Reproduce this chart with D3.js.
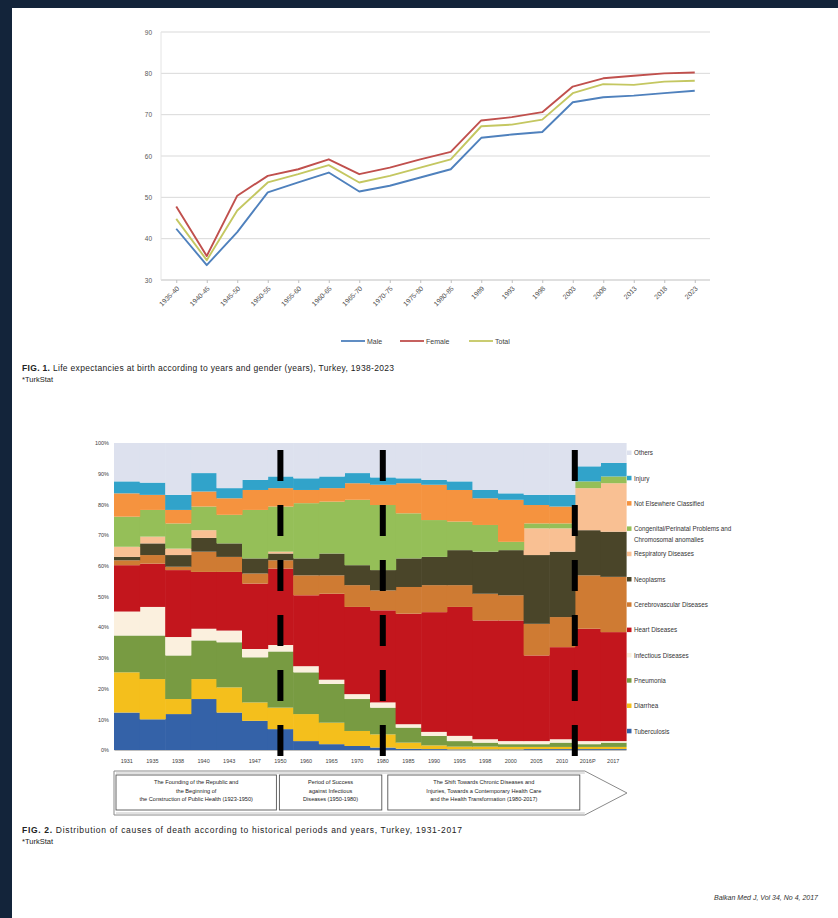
<!DOCTYPE html>
<html>
<head>
<meta charset="utf-8">
<script src="https://cdn.jsdelivr.net/npm/d3@7"></script>
<style>
  html, body { margin: 0; padding: 0; background: #13243a; }
  svg { display: block; font-family: "Liberation Sans", Arial, sans-serif; }
</style>
</head>
<body>
<svg id="page" width="838" height="918"></svg>
<script>
// ---------- Figure 1: life expectancy at birth ----------
const lifePeriods = ["1935-40", "1940-45", "1945-50", "1950-55", "1955-60", "1960-65", "1965-70",
  "1970-75", "1975-80", "1980-85", "1989", "1993", "1998", "2003", "2008", "2013", "2018", "2023"];
const lifeMale   = [42.4, 33.6, 41.6, 51.2, 53.6, 56.0, 51.4, 52.8, 54.8, 56.8, 64.4, 65.2, 65.8, 73.0, 74.2, 74.6, 75.2, 75.8];
const lifeFemale = [47.8, 35.8, 50.4, 55.2, 56.8, 59.2, 55.6, 57.2, 59.2, 61.0, 68.6, 69.4, 70.6, 76.8, 78.8, 79.4, 80.0, 80.2];
const lifeTotal  = [44.8, 34.8, 46.8, 53.6, 55.6, 57.8, 53.6, 55.2, 57.2, 59.2, 67.2, 67.6, 68.8, 75.2, 77.4, 77.2, 78.0, 78.2];
const lifeTicks  = [30, 40, 50, 60, 70, 80, 90];
const lifeSeriesNames = ["Male", "Female", "Total"];

// ---------- Figure 2: causes of death (percent of all deaths) ----------
const causeYears = ["1931", "1935", "1938", "1940", "1943", "1947", "1950", "1960", "1965", "1970",
  "1980", "1985", "1990", "1995", "1998", "2000", "2005", "2010", "2016P", "2017"];
const tuberculosis    = [12.2, 10.0, 11.7, 16.6, 12.2, 9.5, 6.8, 2.9, 1.9, 1.3, 0.8, 0.4, 0.3, 0.2, 0.2, 0.2, 0.3, 0.3, 0.3, 0.3];
const diarrhea        = [13.1, 13.1, 4.9, 6.5, 8.2, 6.0, 7.0, 8.8, 7.0, 4.9, 4.3, 2.0, 1.2, 0.9, 0.9, 0.8, 0.7, 0.7, 0.7, 0.7];
const pneumonia       = [12.0, 14.2, 14.2, 12.6, 14.7, 14.7, 18.3, 13.6, 12.6, 10.4, 8.7, 4.9, 3.1, 1.8, 1.3, 0.9, 0.9, 1.4, 0.9, 1.4];
const infectious      = [7.8, 9.3, 6.0, 3.8, 3.8, 2.7, 2.1, 2.0, 1.4, 1.6, 1.7, 1.1, 1.3, 1.7, 1.1, 1.0, 1.0, 1.1, 1.0, 0.5];
const heart           = [15.1, 14.1, 21.8, 18.5, 19.1, 21.3, 24.9, 23.1, 28.0, 28.4, 30.0, 36.0, 39.0, 42.0, 38.7, 39.3, 27.9, 30.0, 36.6, 35.5];
const cerebrovascular = [1.6, 2.8, 1.1, 6.6, 4.9, 3.3, 2.7, 6.5, 6.0, 7.1, 6.5, 8.7, 8.8, 7.1, 8.7, 8.2, 10.3, 9.8, 17.4, 18.0];
const neoplasms       = [1.1, 3.8, 3.8, 4.5, 4.4, 4.9, 2.2, 5.5, 7.1, 6.5, 6.6, 9.3, 9.2, 11.4, 13.7, 14.7, 22.4, 21.3, 14.7, 14.7];
const respiratory     = [3.3, 2.2, 2.1, 2.5, 0, 0, 0.6, 0, 0, 0, 0, 0, 0, 0, 0, 0, 8.7, 7.6, 13.7, 15.8];
const congenital      = [9.8, 8.7, 8.2, 7.7, 9.3, 15.8, 14.7, 18.0, 16.9, 21.3, 21.2, 14.7, 12.0, 9.3, 8.7, 2.7, 1.6, 1.6, 2.2, 2.2];
const notClassified   = [7.6, 4.9, 4.4, 4.9, 5.4, 6.5, 6.0, 4.3, 4.4, 5.4, 6.6, 9.8, 11.5, 10.3, 8.7, 13.7, 6.0, 5.5, 0, 0];
const injury          = [3.9, 4.0, 4.9, 6.0, 3.3, 3.3, 3.8, 3.8, 3.8, 3.3, 2.4, 1.6, 1.6, 2.8, 2.7, 2.1, 3.3, 3.8, 4.9, 4.4];
const others          = [12.5, 12.9, 16.9, 9.8, 14.7, 12.0, 10.9, 11.5, 10.9, 9.8, 11.2, 11.5, 12.0, 12.5, 15.3, 16.4, 16.9, 16.9, 7.6, 6.5];
const percentTicks = [0, 10, 20, 30, 40, 50, 60, 70, 80, 90, 100];

// stacking order, bottom to top
const causeKeys = ["Tuberculosis", "Diarrhea", "Pneumonia", "Infectious Diseases", "Heart Diseases",
  "Cerebrovascular Diseases", "Neoplasms", "Respiratory Diseases", "Congenital", "Not Elsewhere Classified",
  "Injury", "Others"];
const causeValues = [tuberculosis, diarrhea, pneumonia, infectious, heart, cerebrovascular, neoplasms,
  respiratory, congenital, notClassified, injury, others];
const causeColors = ["#3462a8", "#f4bf1c", "#789b42", "#fbf0de", "#c3161d", "#cf7b33", "#4a4529",
  "#f9c093", "#95bf58", "#f5933f", "#31a3ca", "#dde1ee"];
// legend, top to bottom
const causeLegend = [
  ["Others"], ["Injury"], ["Not Elsewhere Classified"],
  ["Congenital/Perinatal Problems and", "Chromosomal anomalies"], ["Respiratory Diseases"],
  ["Neoplasms"], ["Cerebrovascular Diseases"], ["Heart Diseases"], ["Infectious Diseases"],
  ["Pneumonia"], ["Diarrhea"], ["Tuberculosis"]
];
// period boundaries, in column units from the left edge
const periodBreaks = [6.5, 10.5, 18];
const periodTexts = [
  ["The Founding of the Republic and", "the Beginning of", "the Construction of Public Health (1923-1950)"],
  ["Period of Success", "against Infectious", "Diseases (1950-1980)"],
  ["The Shift Towards Chronic Diseases and", "Injuries, Towards a Contemporary Health Care", "and the Health Transformation (1980-2017)"]
];

const svg = d3.select("#page");

// page
svg.append("rect").attr("width", 838).attr("height", 918).attr("fill", "#13243a");
svg.append("rect").attr("x", 12).attr("y", 8).attr("width", 826).attr("height", 910).attr("fill", "#ffffff");

// ================= Figure 1 =================
const L = { left: 161, right: 710, top: 32, bottom: 280 };
const lx = d3.scalePoint().domain(lifePeriods).range([L.left, L.right]).padding(0.5);
const ly = d3.scaleLinear().domain([30, 90]).range([L.bottom, L.top]);
const lineColors = { Male: "#4f81bd", Female: "#c0504d", Total: "#c4c761" };

const g1 = svg.append("g");
g1.append("g").selectAll("line").data(lifeTicks).join("line")
  .attr("x1", L.left).attr("x2", L.right)
  .attr("y1", d => ly(d)).attr("y2", d => ly(d))
  .attr("stroke", d => d === 30 ? "#bfbfbf" : "#d9d9d9").attr("stroke-width", 1);
g1.append("line").attr("x1", L.left).attr("x2", L.left).attr("y1", L.top).attr("y2", L.bottom)
  .attr("stroke", "#e4e4e4");

const yAx = g1.append("g").attr("transform", `translate(${L.left - 9},0)`)
  .call(d3.axisLeft(ly).tickValues(lifeTicks).tickSize(0).tickPadding(0));
yAx.select(".domain").remove();
yAx.selectAll("text").attr("font-size", 6.5).attr("fill", "#595959").attr("font-family", "Liberation Sans");

const xAx = g1.append("g").attr("transform", `translate(0,${L.bottom})`)
  .call(d3.axisBottom(lx).tickSize(3));
xAx.select(".domain").remove();
xAx.selectAll(".tick line").attr("stroke", "#bfbfbf");
xAx.selectAll("text").attr("font-size", 6.8).attr("fill", "#505050").attr("font-family", "Liberation Sans")
  .attr("text-anchor", "end").attr("dy", null).attr("y", 0)
  .attr("transform", "translate(3,9) rotate(-45)");

const lifeData = { Male: lifeMale, Female: lifeFemale, Total: lifeTotal };
const line = d3.line().x((d, i) => lx(lifePeriods[i])).y(d => ly(d));
["Male", "Total", "Female"].forEach(k => {
  g1.append("path").datum(lifeData[k]).attr("d", line)
    .attr("fill", "none").attr("stroke", lineColors[k]).attr("stroke-width", 1.9)
    .attr("stroke-linejoin", "round");
});

// legend
const legX = [341, 400, 469];
lifeSeriesNames.forEach((k, i) => {
  const lg = g1.append("g").attr("transform", `translate(${legX[i]},341)`);
  lg.append("line").attr("x1", 0).attr("x2", 24).attr("stroke", lineColors[k]).attr("stroke-width", 1.8);
  lg.append("text").attr("x", 26).attr("y", 2.5).attr("font-size", 7).attr("fill", "#404040").text(k);
});

// caption
const cap1 = svg.append("text").attr("x", 22).attr("y", 371).attr("font-size", 8.5).attr("fill", "#222")
  .attr("textLength", 372).attr("lengthAdjust", "spacing");
cap1.append("tspan").attr("font-weight", "bold").text("FIG. 1. ");
cap1.append("tspan").text("Life expectancies at birth according to years and gender (years), Turkey, 1938-2023");
svg.append("text").attr("x", 22).attr("y", 382).attr("font-size", 7.5).attr("fill", "#222").text("*TurkStat");

// ================= Figure 2 =================
const S = { left: 114, right: 626, top: 443, bottom: 750 };
const rows = causeYears.map((yr, i) => {
  const r = { year: yr };
  causeKeys.forEach((k, j) => { r[k] = causeValues[j][i]; });
  return r;
});
const stacked = d3.stack().keys(causeKeys)(rows);
const bx = d3.scaleBand().domain(causeYears).range([S.left, S.right]).padding(0);
const by = d3.scaleLinear().domain([0, 100]).range([S.bottom, S.top]);
const colScale = d3.scaleLinear().domain([0, causeYears.length]).range([S.left, S.right]);
const color = d3.scaleOrdinal().domain(causeKeys).range(causeColors);

const g2 = svg.append("g");
g2.selectAll("g.layer").data(stacked).join("g").attr("class", "layer")
  .attr("fill", d => color(d.key))
  .selectAll("rect").data(d => d).join("rect")
  .attr("x", d => bx(d.data.year))
  .attr("width", bx.bandwidth() + 0.6)
  .attr("y", d => by(d[1]))
  .attr("height", d => Math.max(0, by(d[0]) - by(d[1])));

const pAx = g2.append("g").attr("transform", `translate(${S.left - 5},0)`)
  .call(d3.axisLeft(by).tickValues(percentTicks).tickFormat(d => d + "%").tickSize(0).tickPadding(0));
pAx.select(".domain").remove();
pAx.selectAll("text").attr("font-size", 5.5).attr("fill", "#404040").attr("font-family", "Liberation Sans");

const cAx = g2.append("g").attr("transform", `translate(0,${S.bottom})`)
  .call(d3.axisBottom(bx).tickSize(0).tickPadding(9));
cAx.select(".domain").attr("stroke", "#bfbfbf");
cAx.selectAll("text").attr("font-size", 5.5).attr("fill", "#404040").attr("font-family", "Liberation Sans");

// period dividers
g2.selectAll("line.brk").data(periodBreaks).join("line").attr("class", "brk")
  .attr("x1", d => colScale(d)).attr("x2", d => colScale(d))
  .attr("y1", 450).attr("y2", 756)
  .attr("stroke", "#000").attr("stroke-width", 6).attr("stroke-dasharray", "31,24");

// legend
const lg2 = g2.append("g");
causeLegend.forEach((lines, i) => {
  const yy = 453 + i * 25.3;
  const key = causeKeys[causeKeys.length - 1 - i];
  lg2.append("rect").attr("x", 627).attr("y", yy - 2.5).attr("width", 4.5).attr("height", 4.5)
    .attr("fill", color(key));
  lines.forEach((t, j) => {
    lg2.append("text").attr("x", 634).attr("y", yy + 2.2 + j * 11).attr("font-size", 6.3)
      .attr("fill", "#333").text(t);
  });
});

// period arrow with boxes
const ax0 = S.left, ax1 = colScale(periodBreaks[2]) + 10, tip = S.right + 1;
const aTop = 771, aBot = 815;
g2.append("path")
  .attr("d", `M${ax0},${aTop}H${ax1}L${tip},${(aTop + aBot) / 2}L${ax1},${aBot}H${ax0}Z`)
  .attr("fill", "#fff").attr("stroke", "#8a8a8a").attr("stroke-width", 1);
g2.append("path")
  .attr("d", `M${ax0 + 2},${aTop + 2}H${ax1}M${ax0 + 2},${aBot - 2}H${ax1}`)
  .attr("stroke", "#b5b5b5").attr("stroke-width", 0.8);
const boxEdges = [[ax0 + 2, colScale(periodBreaks[0]) - 4],
                  [colScale(periodBreaks[0]) - 1, colScale(periodBreaks[1]) - 1],
                  [colScale(periodBreaks[1]) + 5, colScale(periodBreaks[2]) + 5]];
boxEdges.forEach(([a, b], i) => {
  g2.append("rect").attr("x", a).attr("y", 775).attr("width", b - a).attr("height", 35)
    .attr("fill", "#fff").attr("stroke", "#555").attr("stroke-width", 0.9);
  periodTexts[i].forEach((t, j) => {
    g2.append("text").attr("x", (a + b) / 2).attr("y", 784 + j * 8.5).attr("text-anchor", "middle")
      .attr("font-size", 5.6).attr("fill", "#222").text(t);
  });
});

// caption
const cap2 = svg.append("text").attr("x", 22).attr("y", 833).attr("font-size", 8.5).attr("fill", "#222")
  .attr("textLength", 440).attr("lengthAdjust", "spacing");
cap2.append("tspan").attr("font-weight", "bold").text("FIG. 2. ");
cap2.append("tspan").text("Distribution of causes of death according to historical periods and years, Turkey, 1931-2017");
svg.append("text").attr("x", 22).attr("y", 844).attr("font-size", 7.5).attr("fill", "#222").text("*TurkStat");

// running footer
svg.append("text").attr("x", 818).attr("y", 900).attr("text-anchor", "end")
  .attr("font-size", 7).attr("font-style", "italic").attr("fill", "#333")
  .text("Balkan Med J, Vol 34, No 4, 2017");
</script>
</body>
</html>
